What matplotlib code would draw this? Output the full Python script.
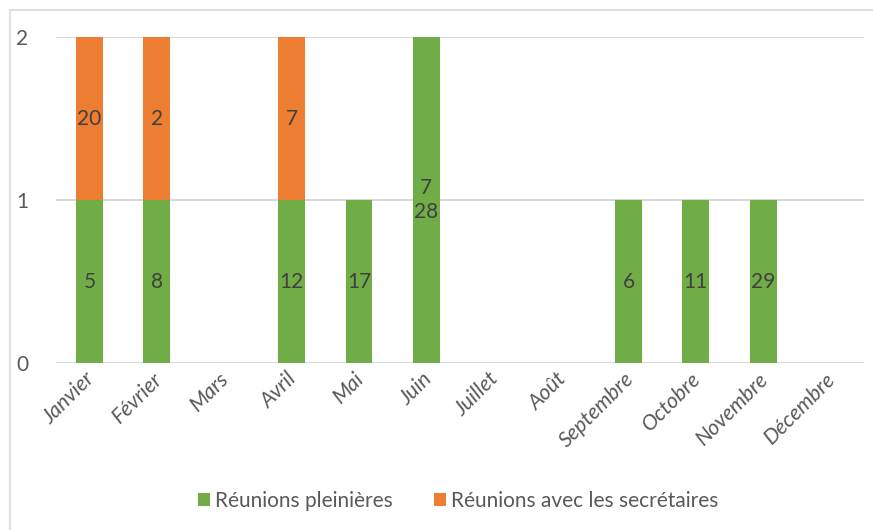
import numpy as np
import matplotlib
matplotlib.use('Agg')
import matplotlib.pyplot as plt
import matplotlib.transforms as mtransforms

months = ['Janvier', 'Février', 'Mars', 'Avril', 'Mai', 'Juin', 'Juillet',
          'Août', 'Septembre', 'Octobre', 'Novembre', 'Décembre']
plenieres = [1, 1, 0, 1, 1, 2, 0, 0, 1, 1, 1, 0]
secretaires = [1, 1, 0, 1, 0, 0, 0, 0, 0, 0, 0, 0]
# day-of-month labels written inside the bars
lab_plen = ['5', '8', '', '12', '17', '7\n28', '', '', '6', '11', '29', '']
lab_secr = ['20', '2', '', '7', '', '', '', '', '', '', '', '']

green = '#70ad47'
orange = '#ed7d31'
grid_c = '#d9d9d9'
txt_c = '#595959'

plt.rcParams['font.family'] = ['Lato', 'DejaVu Sans']

fig = plt.figure(figsize=(8.73, 5.30), dpi=100)
ax = fig.add_axes([0.064, 0.315, 0.926, 0.615])

x = np.arange(len(months))
w = 0.4
b1 = ax.bar(x, plenieres, w, color=green, label='Réunions pleinières', zorder=3)
b2 = ax.bar(x, secretaires, w, bottom=plenieres, color=orange,
            label='Réunions avec les secrétaires', zorder=3)
ax.bar_label(b1, labels=lab_plen, label_type='center', color='#404040',
             fontsize=15, linespacing=1.25, zorder=4)
ax.bar_label(b2, labels=lab_secr, label_type='center', color='#404040',
             fontsize=15, zorder=4)

ax.set_xlim(-0.5, len(months) - 0.5)
ax.set_ylim(0, 2)
ax.set_yticks([0, 1, 2])
ax.yaxis.grid(True, color=grid_c, linewidth=1.5, zorder=0)
ax.tick_params(axis='y', length=0, pad=20, labelsize=15, labelcolor=txt_c)
ax.tick_params(axis='x', length=0, pad=4, labelsize=15.5, labelcolor=txt_c,
               labelrotation=45)
ax.set_xticks(x, months)
shift = mtransforms.ScaledTranslation(-5 / 100, 0, fig.dpi_scale_trans)
for t in ax.get_xticklabels():
    t.set_ha('right')
    t.set_rotation_mode('anchor')
    t.set_fontstyle('italic')
    t.set_transform(t.get_transform() + shift)
for s in ax.spines.values():
    s.set_visible(False)

leg = fig.legend(handles=[b1, b2], loc='center', bbox_to_anchor=(0.525, 0.055),
                 ncol=2, frameon=False, fontsize=15, labelcolor=txt_c,
                 handlelength=0.55, handleheight=0.55, handletextpad=0.25,
                 columnspacing=2.0)

# chart frame (only left/top visible in the screenshot)
fig.add_artist(plt.Line2D([0.011, 0.011], [0.0, 0.981], color=grid_c,
                          linewidth=1.2, transform=fig.transFigure))
fig.add_artist(plt.Line2D([0.011, 1.0], [0.981, 0.981], color=grid_c,
                          linewidth=1.2, transform=fig.transFigure))

fig.savefig('out.png', dpi=100)
